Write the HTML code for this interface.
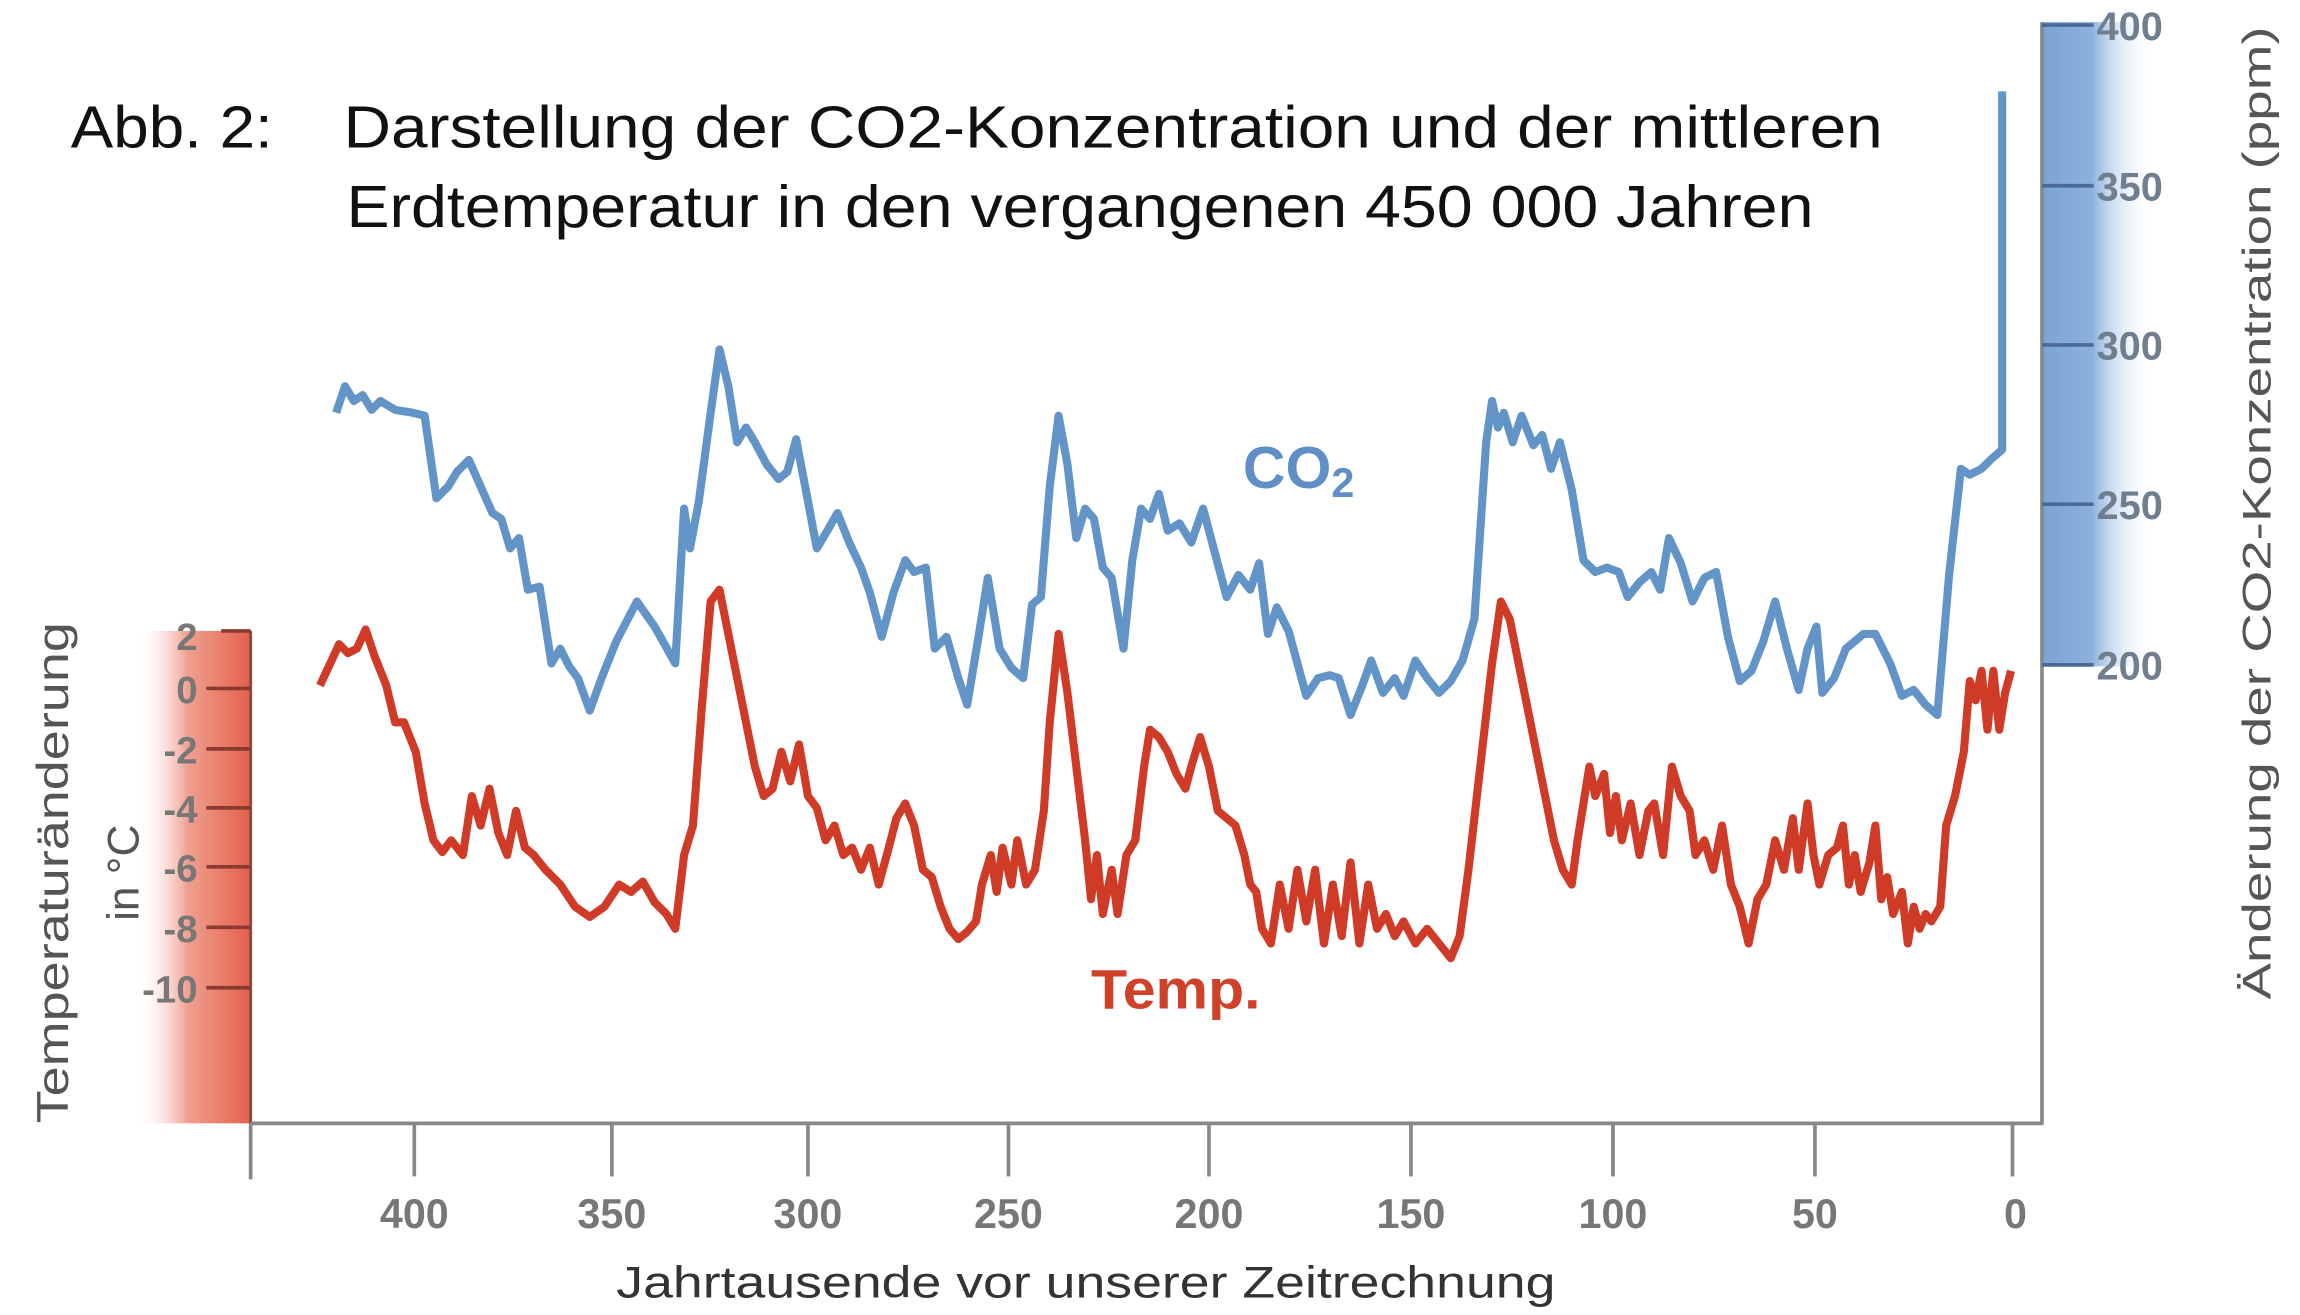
<!DOCTYPE html>
<html><head><meta charset="utf-8"><style>html,body{margin:0;padding:0;background:#fff}svg{display:block}</style></head>
<body>
<svg width="2300" height="1315" viewBox="0 0 1560 892" preserveAspectRatio="none" xmlns="http://www.w3.org/2000/svg">
<defs>
<linearGradient id="rg" x1="0" x2="1" y1="0" y2="0">
<stop offset="0" stop-color="#fff" stop-opacity="0"/>
<stop offset="0.45" stop-color="#f0a090"/>
<stop offset="1" stop-color="#e4604c"/>
</linearGradient>
<linearGradient id="bg" x1="0" x2="1" y1="0" y2="0">
<stop offset="0" stop-color="#7aa3d4"/>
<stop offset="0.45" stop-color="#8db1dc"/>
<stop offset="1" stop-color="#fff" stop-opacity="0"/>
</linearGradient>
</defs>
<rect width="1560" height="892" fill="#fff"/>
<rect x="92" y="428" width="78" height="334" fill="url(#rg)"/>
<line x1="170" y1="428" x2="170" y2="762" stroke="#8a4a40" stroke-width="2"/>
<rect x="1385" y="15" width="75" height="437" fill="url(#bg)"/>
<line x1="170" y1="762" x2="1385" y2="762" stroke="#888" stroke-width="2.5"/>
<line x1="1385" y1="15" x2="1385" y2="763" stroke="#888" stroke-width="2.5"/>
<line x1="170" y1="762" x2="170" y2="800" stroke="#888" stroke-width="2.5"/>
<g stroke="#888" stroke-width="2.5">
<line x1="281" y1="762" x2="281" y2="798"/><line x1="415" y1="762" x2="415" y2="798"/>
<line x1="548" y1="762" x2="548" y2="798"/><line x1="684" y1="762" x2="684" y2="798"/>
<line x1="820" y1="762" x2="820" y2="798"/><line x1="957" y1="762" x2="957" y2="798"/>
<line x1="1094" y1="762" x2="1094" y2="798"/><line x1="1231" y1="762" x2="1231" y2="798"/>
<line x1="1365" y1="762" x2="1365" y2="798"/>
</g>
<g font-family="Liberation Sans, sans-serif" font-weight="bold" font-size="28" fill="#777" text-anchor="middle">
<text x="281" y="833">400</text><text x="415" y="833">350</text><text x="548" y="833">300</text>
<text x="684" y="833">250</text><text x="820" y="833">200</text><text x="957" y="833">150</text>
<text x="1094" y="833">100</text><text x="1231" y="833">50</text><text x="1367" y="833">0</text>
</g>
<g stroke="#8a3a30" stroke-width="2.5">
<line x1="140" y1="467" x2="170" y2="467"/><line x1="140" y1="508" x2="170" y2="508"/>
<line x1="140" y1="548" x2="170" y2="548"/><line x1="140" y1="588" x2="170" y2="588"/>
<line x1="140" y1="629" x2="170" y2="629"/><line x1="140" y1="670" x2="170" y2="670"/>
<line x1="150" y1="428" x2="170" y2="428"/>
</g>
<g font-family="Liberation Sans, sans-serif" font-weight="bold" font-size="26" fill="#777" text-anchor="end">
<text x="134" y="441">2</text><text x="134" y="477">0</text><text x="134" y="518">-2</text>
<text x="134" y="558">-4</text><text x="134" y="598">-6</text><text x="134" y="639">-8</text>
<text x="134" y="680">-10</text>
</g>
<g stroke="#4a6a98" stroke-width="2.5">
<line x1="1385" y1="126" x2="1420" y2="126"/><line x1="1385" y1="234" x2="1420" y2="234"/>
<line x1="1385" y1="342" x2="1420" y2="342"/><line x1="1385" y1="17" x2="1420" y2="17"/>
<line x1="1385" y1="451" x2="1420" y2="451"/>
</g>
<g font-family="Liberation Sans, sans-serif" font-weight="bold" font-size="27" fill="#6f7f90">
<text x="1422" y="27">400</text><text x="1422" y="136">350</text><text x="1422" y="244">300</text>
<text x="1422" y="352">250</text><text x="1422" y="461">200</text>
</g>
<text transform="translate(1540,348) rotate(-90)" font-family="Liberation Sans, sans-serif" font-size="27" fill="#555" text-anchor="middle" textLength="660" lengthAdjust="spacingAndGlyphs">Änderung der CO2-Konzentration (ppm)</text>
<text transform="translate(46,592) rotate(-90)" font-family="Liberation Sans, sans-serif" font-size="30" fill="#555" text-anchor="middle" textLength="340" lengthAdjust="spacingAndGlyphs">Temperaturänderung</text>
<text transform="translate(94,592) rotate(-90)" font-family="Liberation Sans, sans-serif" font-size="30" fill="#555" text-anchor="middle">in °C</text>
<text x="418" y="880" font-family="Liberation Sans, sans-serif" font-size="30" fill="#333" textLength="637" lengthAdjust="spacingAndGlyphs">Jahrtausende vor unserer Zeitrechnung</text>
<g font-family="Liberation Sans, sans-serif" font-size="40" fill="#111">
<text x="48" y="100" textLength="137" lengthAdjust="spacingAndGlyphs">Abb. 2:</text>
<text x="233" y="100" textLength="1044" lengthAdjust="spacingAndGlyphs">Darstellung der CO2-Konzentration und der mittleren</text>
<text x="235" y="154" textLength="995" lengthAdjust="spacingAndGlyphs">Erdtemperatur in den vergangenen 450 000 Jahren</text>
</g>
<text x="843" y="331" font-family="Liberation Sans, sans-serif" font-weight="bold" font-size="40" fill="#5f8fc6">CO<tspan font-size="28" dy="6">2</tspan></text>
<text x="740" y="684" font-family="Liberation Sans, sans-serif" font-weight="bold" font-size="38" fill="#d0412a" textLength="115" lengthAdjust="spacingAndGlyphs">Temp.</text>
<polyline fill="none" stroke="#6394c8" stroke-width="5.5" stroke-linejoin="round" points="228,280 234,262 240,272 246,268 252,278 258,272 268,278 280,280 288,282 296,338 304,330 310,320 318,312 326,330 334,348 340,352 346,372 352,365 358,400 366,398 374,450 380,440 386,452 392,460 400,482 408,460 418,435 432,408 444,425 458,450 464,345 468,372 474,340 482,280 488,237 494,262 500,300 506,290 512,300 520,315 528,325 534,320 540,298 548,340 554,372 560,362 568,348 576,368 584,385 590,402 598,432 606,402 614,380 620,388 628,385 634,440 642,432 650,460 656,478 664,430 670,392 678,440 686,453 694,460 700,410 706,405 712,330 718,282 724,315 730,365 736,345 742,352 748,385 754,392 762,440 768,380 774,345 780,352 786,335 792,360 800,355 808,368 816,345 824,375 832,405 840,390 848,400 854,382 860,430 866,412 874,428 880,450 886,472 894,460 902,458 908,460 916,485 924,465 930,448 938,470 946,460 952,472 960,448 968,460 976,470 984,462 992,448 1000,420 1008,300 1012,272 1016,290 1020,280 1026,300 1032,282 1040,302 1046,295 1052,318 1058,300 1066,332 1074,380 1082,388 1090,385 1098,388 1104,405 1112,395 1120,388 1126,400 1132,365 1140,382 1148,408 1156,392 1164,388 1172,432 1180,462 1188,455 1196,435 1204,408 1212,440 1220,468 1226,440 1232,425 1236,470 1244,460 1252,440 1264,430 1272,430 1282,450 1290,472 1298,468 1306,478 1314,485 1322,390 1330,318 1336,322 1344,318 1350,312 1358,305 1358,62"/>
<polyline fill="none" stroke="#cf3b26" stroke-width="5.5" stroke-linejoin="round" points="217,465 224,450 230,437 236,443 242,440 248,427 254,445 262,465 268,490 274,490 282,510 288,545 294,570 300,578 306,570 314,580 320,540 326,560 332,535 338,565 344,580 350,550 356,575 362,580 370,590 380,600 390,615 400,622 410,615 420,600 428,605 436,598 444,612 452,620 458,630 464,580 470,560 476,480 482,408 488,400 494,430 500,460 506,490 512,520 518,540 524,535 530,510 536,530 542,505 548,540 554,548 560,570 566,560 572,580 578,575 584,590 590,575 596,600 602,578 608,555 614,545 620,560 626,590 632,595 638,615 644,630 650,637 656,632 662,625 666,600 672,580 676,605 680,575 686,600 690,570 696,600 702,590 708,550 712,490 718,430 724,470 730,520 736,570 740,610 744,580 748,620 754,590 758,620 764,580 770,570 776,520 780,495 786,500 792,510 798,525 804,535 808,520 814,500 820,520 826,550 832,555 838,560 844,580 848,600 852,605 856,630 862,640 868,600 874,630 880,590 886,625 892,590 898,640 904,600 910,635 916,585 922,640 928,600 934,630 940,620 946,635 952,625 960,640 968,630 976,640 984,650 990,635 996,590 1004,520 1012,450 1018,408 1024,420 1030,450 1036,480 1042,510 1048,540 1054,570 1060,590 1066,600 1070,570 1074,545 1078,520 1082,540 1088,525 1092,565 1096,540 1100,570 1106,545 1112,580 1118,550 1122,545 1128,580 1134,520 1140,540 1146,550 1150,580 1156,570 1162,590 1168,560 1174,600 1180,615 1186,640 1192,610 1198,600 1204,570 1210,590 1216,555 1220,590 1226,545 1230,580 1234,600 1240,580 1246,575 1250,560 1254,600 1258,580 1262,605 1268,585 1272,560 1276,610 1280,595 1284,620 1290,605 1294,640 1298,615 1302,630 1306,620 1310,625 1316,615 1320,560 1326,540 1332,510 1336,462 1340,475 1344,455 1348,495 1352,455 1356,495 1360,470 1364,455"/>
</svg>
</body></html>
